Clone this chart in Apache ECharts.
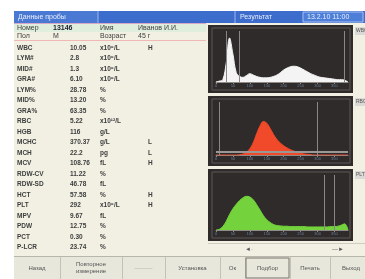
<!DOCTYPE html>
<html>
<head>
<meta charset="utf-8">
<script src="https://cdn.jsdelivr.net/npm/echarts@6/dist/echarts.min.js"></script>
<style>
  html, body { margin: 0; padding: 0; background: #fff; }
  #main { width: 365px; height: 279px; }
</style>
</head>
<body>
<div id="main"></div>
<script>
// параметры анализа
var paramNames = ['WBC', 'LYM#', 'MID#', 'GRA#', 'LYM%', 'MID%', 'GRA%', 'RBC', 'HGB', 'MCHC', 'MCH', 'MCV',
    'RDW-CV', 'RDW-SD', 'HCT', 'PLT', 'MPV', 'PDW', 'PCT', 'P-LCR'];
var paramValues = ['10.05', '2.8', '1.3', '6.10', '28.78', '13.20', '63.35', '5.22', '116', '370.37', '22.2', '108.76',
    '11.22', '46.78', '57.58', '292', '9.67', '12.75', '0.30', '23.74'];
var paramUnits = ['x10⁹/L', 'x10⁹/L', 'x10⁹/L', 'x10⁹/L', '%', '%', '%', 'x10¹²/L', 'g/L', 'g/L', 'pg', 'fL',
    '%', 'fL', '%', 'x10⁹/L', 'fL', '%', '%', '%'];
var paramFlags = ['H', '', '', '', '', '', '', '', '', 'L', 'L', 'H', '', '', 'H', 'H', '', '', '', ''];

// гистограммы
var bins = [];
for (var b = 0; b < 40; b++) bins.push(String(b * 10));
var wbcHist = [0, 2, 5, 40, 95, 60, 20, 12, 10, 14, 18, 15, 12, 10, 9, 9, 10, 12, 15, 20,
    26, 30, 33, 34, 33, 30, 26, 22, 18, 15, 12, 10, 9, 8, 7, 6, 5, 5, 4, 0];
var rbcHist = [0, 0, 0, 0, 0, 0, 0, 1, 3, 8, 18, 35, 60, 82, 95, 90, 75, 58, 44, 34,
    26, 20, 15, 11, 8, 5, 3, 2, 1, 0, 0, 0, 0, 0, 0, 0, 0, 0, 0, 0];
var pltHist = [0, 2, 10, 25, 45, 62, 75, 86, 94, 98, 96, 88, 74, 58, 42, 30, 22, 16, 13, 12,
    11, 11, 10, 10, 10, 10, 10, 9, 9, 9, 9, 9, 9, 9, 10, 10, 11, 14, 18, 0];
var wbcMarks = [3, 7, 38];
var rbcMarks = [1, 30];
var pltMarks = [32, 35];

var buttons = ['Назад', 'Повторное\nизмерение', '———', 'Установка', 'Ок', 'Подбор', 'Печать', 'Выход'];
var buttonEdges = [14, 60, 122, 165, 220, 245, 290, 330, 372];

var myChart = echarts.init(document.getElementById('main'));
var FONT = 'Liberation Sans';
var TXT = '#3d3d3d';

var panels = [
    { top: 25, bottom: 93, data: wbcHist, color: '#f4f4f4', marks: wbcMarks, name: 'WBC', max: 110 },
    { top: 96, bottom: 166, data: rbcHist, color: '#f04a2a', marks: rbcMarks, name: 'RBC', max: 150 },
    { top: 169, bottom: 241, data: pltHist, color: '#74d23c', marks: pltMarks, name: 'PLT', max: 160 }
];

var graphic = [];
// фон
graphic.push({ type: 'rect', shape: { x: 14, y: 11, width: 351, height: 268 }, style: { fill: '#f1f0e3' }, z: -10 });
// синяя полоса заголовка
graphic.push({ type: 'rect', shape: { x: 14, y: 11, width: 351, height: 12 }, style: { fill: '#3c6dcc' }, z: -5 });
graphic.push({ type: 'rect', shape: { x: 14, y: 11, width: 84, height: 12 }, style: { fill: '#4a79d4' }, z: -4 });
graphic.push({ type: 'line', shape: { x1: 98, y1: 11, x2: 98, y2: 23 }, style: { stroke: '#9fb9ea', lineWidth: 1 } });
graphic.push({ type: 'line', shape: { x1: 235, y1: 11, x2: 235, y2: 23 }, style: { stroke: '#9fb9ea', lineWidth: 1 } });
graphic.push({ type: 'rect', shape: { x: 303, y: 12, width: 60, height: 10 }, style: { fill: '#4d7ed8', stroke: '#a9c0ee', lineWidth: 1 } });
graphic.push({ type: 'text', x: 18, y: 17, style: { text: 'Данные пробы', fill: '#e8eefb', font: '7px ' + FONT, verticalAlign: 'middle' } });
graphic.push({ type: 'text', x: 240, y: 17, style: { text: 'Результат', fill: '#e8eefb', font: '7px ' + FONT, verticalAlign: 'middle' } });
graphic.push({ type: 'text', x: 307, y: 17, style: { text: '13.2.10 11:00', fill: '#e8eefb', font: '7px ' + FONT, verticalAlign: 'middle' } });
// строки пациента
graphic.push({ type: 'rect', shape: { x: 14, y: 23, width: 192, height: 9 }, style: { fill: '#dfeedd' }, z: -5 });
graphic.push({ type: 'line', shape: { x1: 14, y1: 23.5, x2: 206, y2: 23.5 }, style: { stroke: '#d7a9c9', lineWidth: 1 } });
graphic.push({ type: 'line', shape: { x1: 14, y1: 40.5, x2: 206, y2: 40.5 }, style: { stroke: '#efb8b4', lineWidth: 1 } });
var hdr = [['Номер', 17, 28], ['13146', 53, 28], ['Имя', 100, 28], ['Иванов И.И.', 138, 28],
    ['Пол', 17, 36], ['М', 53, 36], ['Возраст', 100, 36], ['45 г', 138, 36]];
hdr.forEach(function (h, i) {
    graphic.push({ type: 'text', x: h[1], y: h[2], style: { text: h[0], fill: i === 1 ? '#223' : TXT, font: (i === 1 ? 'bold ' : '') + '7px ' + FONT, verticalAlign: 'middle' } });
});
// таблица параметров
paramNames.forEach(function (n, i) {
    var y = 48 + i * 10.5;
    graphic.push({ type: 'text', x: 17, y: y, style: { text: n, fill: TXT, font: 'bold 6.5px ' + FONT, verticalAlign: 'middle' } });
    graphic.push({ type: 'text', x: 70, y: y, style: { text: paramValues[i], fill: TXT, font: 'bold 6.5px ' + FONT, verticalAlign: 'middle' } });
    graphic.push({ type: 'text', x: 100, y: y, style: { text: paramUnits[i], fill: TXT, font: 'bold 6.5px ' + FONT, verticalAlign: 'middle' } });
    if (paramFlags[i]) {
        graphic.push({ type: 'text', x: 148, y: y, style: { text: paramFlags[i], fill: TXT, font: 'bold 6.5px ' + FONT, verticalAlign: 'middle' } });
    }
});
// тёмные панели гистограмм
panels.forEach(function (p) {
    graphic.push({ type: 'rect', shape: { x: 208, y: p.top, width: 145, height: p.bottom - p.top }, style: { fill: '#2e2b2a' }, z: -5 });
    graphic.push({ type: 'rect', shape: { x: 212, y: p.top + 3, width: 138, height: p.bottom - p.top - 6 }, style: { fill: 'none', stroke: '#5c5957', lineWidth: 1 }, z: -4 });
    graphic.push({ type: 'rect', shape: { x: 355, y: p.top + 2, width: 10, height: 8 }, style: { fill: '#d9d9d6' }, z: -4 });
    graphic.push({ type: 'text', x: 356, y: p.top + 6, style: { text: p.name, fill: '#555', font: '5px ' + FONT, verticalAlign: 'middle' } });
});
// ползунок на гистограмме RBC
graphic.push({ type: 'rect', shape: { x: 216, y: 151, width: 132, height: 2 }, style: { fill: '#9a9896' }, z: 10 });
// полоса прокрутки
graphic.push({ type: 'line', shape: { x1: 208, y1: 243.5, x2: 365, y2: 243.5 }, style: { stroke: '#cfcdc2', lineWidth: 1 } });
graphic.push({ type: 'text', x: 245, y: 249, style: { text: '◄·', fill: '#555', font: '6px ' + FONT, verticalAlign: 'middle' } });
graphic.push({ type: 'text', x: 332, y: 249, style: { text: '—►', fill: '#555', font: '6px ' + FONT, verticalAlign: 'middle' } });
// кнопки
graphic.push({ type: 'rect', shape: { x: 14, y: 256, width: 351, height: 23 }, style: { fill: '#e8e7dc' }, z: -5 });
graphic.push({ type: 'line', shape: { x1: 14, y1: 256.5, x2: 365, y2: 256.5 }, style: { stroke: '#b9b7ab', lineWidth: 1 } });
buttons.forEach(function (t, i) {
    var x0 = buttonEdges[i], x1 = buttonEdges[i + 1];
    graphic.push({ type: 'line', shape: { x1: x1 + 0.5, y1: 257, x2: x1 + 0.5, y2: 279 }, style: { stroke: '#c4c2b6', lineWidth: 1 } });
    graphic.push({ type: 'text', x: (x0 + x1) / 2, y: 268, style: { text: t, fill: i === 2 ? '#aaa' : '#555', font: '6px ' + FONT, align: 'center', verticalAlign: 'middle', lineHeight: 7 } });
});
graphic.push({ type: 'rect', shape: { x: 246, y: 258, width: 43, height: 20 }, style: { fill: 'none', stroke: '#77756c', lineWidth: 1 } });

var grids = [], xAxes = [], yAxes = [], series = [];
panels.forEach(function (p, k) {
    grids.push({ left: 216, width: 132, top: p.top + 6, height: p.bottom - p.top - 17 });
    xAxes.push({
        type: 'category', gridIndex: k, data: bins, boundaryGap: false,
        axisLine: { lineStyle: { color: '#8e8b88' } },
        axisTick: { interval: 4, length: 2, lineStyle: { color: '#8e8b88' } },
        axisLabel: { interval: 4, fontSize: 4, color: '#6d7f99', margin: 2 }
    });
    yAxes.push({ type: 'value', gridIndex: k, min: 0, max: p.max, show: false, splitLine: { show: false } });
    series.push({
        type: 'line', xAxisIndex: k, yAxisIndex: k, data: p.data, smooth: 0.4, symbol: 'none',
        lineStyle: { color: p.color, width: 1 },
        areaStyle: { color: p.color, opacity: 1 },
        markLine: {
            silent: true, symbol: 'none', label: { show: false },
            lineStyle: { color: '#8a8886', type: 'solid', width: 1 },
            data: p.marks.map(function (m) { return { xAxis: m }; })
        }
    });
});

var option = {
    animation: false,
    graphic: graphic,
    grid: grids,
    xAxis: xAxes,
    yAxis: yAxes,
    series: series
};
myChart.setOption(option);
</script>
</body>
</html>
